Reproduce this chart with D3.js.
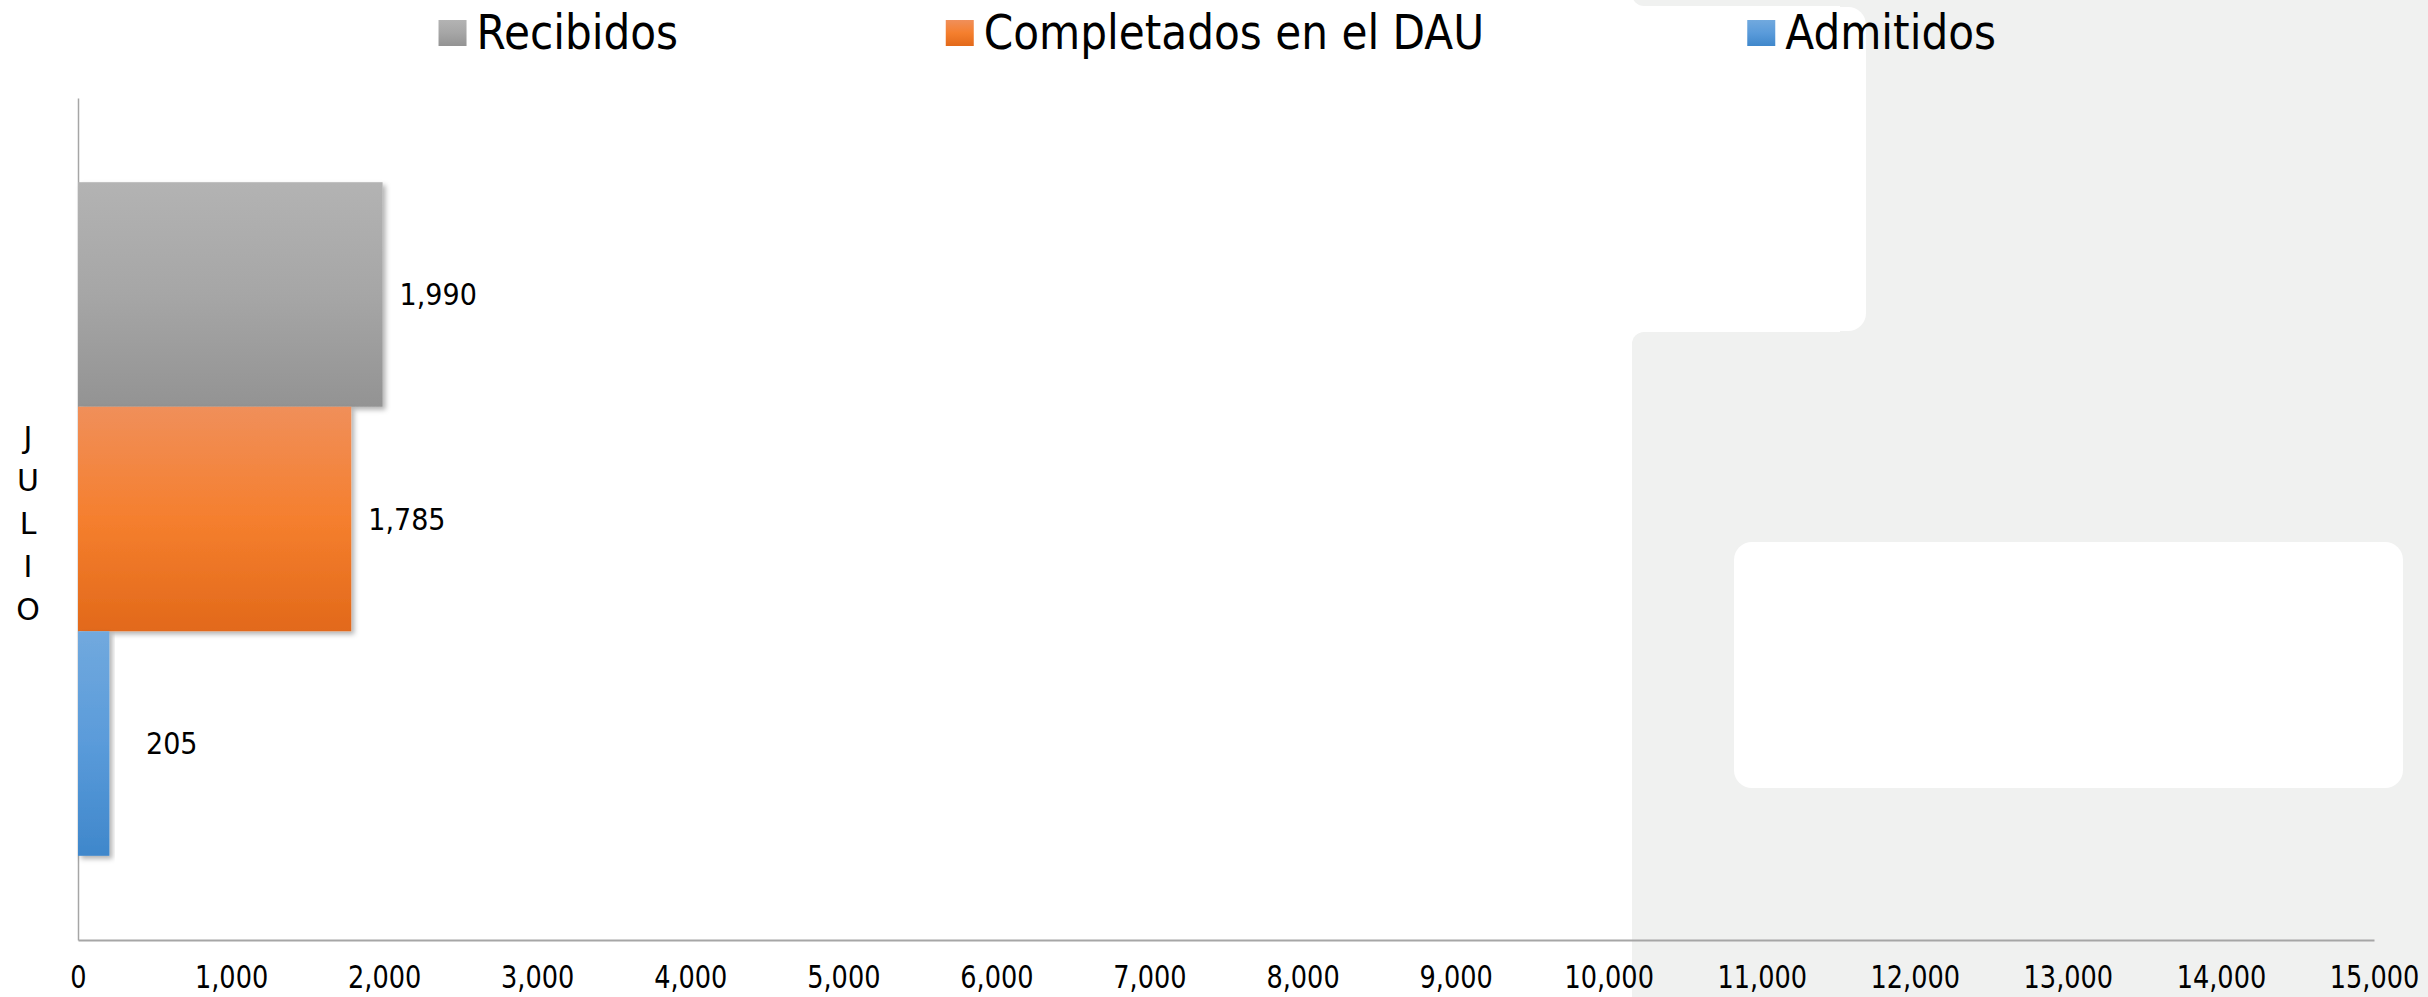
<!DOCTYPE html>
<html>
<head>
<meta charset="utf-8">
<script src="https://cdn.jsdelivr.net/npm/d3@7"></script>
<style>
    body { margin: 0; background: #ffffff; }
    svg { display: block; font-family: "DejaVu Sans", sans-serif; }
</style>
</head>
<body>
<div id="graph"></div>
<script>
// Données
const categories = ["JULIO"];
const series = ["Recibidos", "Completados en el DAU", "Admitidos"];
const valeurs = [1990, 1785, 205];
const graduations = [0, 1000, 2000, 3000, 4000, 5000, 6000, 7000, 8000, 9000, 10000, 11000, 12000, 13000, 14000, 15000];
const couleurs = [
    ["#b3b3b3", "#a6a6a6", "#939393"],
    ["#f08f5a", "#f57f2e", "#e2691a"],
    ["#71a9de", "#5a9bda", "#3f87cb"]
];

const width = 2428;
const height = 997;

const svg = d3.select("#graph").append("svg")
    .attr("width", width)
    .attr("height", height);

const defs = svg.append("defs");

// dégradés verticaux des barres
couleurs.forEach((c, i) => {
    const grad = defs.append("linearGradient")
        .attr("id", "grad" + i)
        .attr("x1", 0).attr("y1", 0).attr("x2", 0).attr("y2", 1);
    grad.append("stop").attr("offset", "0%").attr("stop-color", c[0]);
    grad.append("stop").attr("offset", "50%").attr("stop-color", c[1]);
    grad.append("stop").attr("offset", "100%").attr("stop-color", c[2]);
});

defs.append("filter")
    .attr("id", "ombre")
    .attr("x", "-5%").attr("y", "-5%").attr("width", "120%").attr("height", "120%")
    .append("feDropShadow")
    .attr("dx", 3).attr("dy", 3)
    .attr("stdDeviation", 2.5)
    .attr("flood-color", "#000")
    .attr("flood-opacity", 0.3);

dessinerFond();

const x = d3.scaleLinear()
    .domain([0, 15000])
    .range([78, 2374]);

const y = d3.scaleBand()
    .domain(categories)
    .range([98, 940])
    .paddingInner(0.2)
    .paddingOuter(0.1);

const ySerie = d3.scaleBand()
    .domain(series)
    .range([0, y.bandwidth()]);

const format = d3.format(",");

// axe horizontal
const axeX = svg.append("g")
    .attr("transform", "translate(0,940)")
    .call(d3.axisBottom(x).tickValues(graduations).tickSize(0).tickSizeOuter(0).tickFormat(format));

axeX.select(".domain")
    .attr("stroke", "#a6a6a6")
    .attr("stroke-width", 2);

axeX.selectAll("text")
    .attr("y", 48)
    .attr("dy", 0)
    .attr("fill", "#000")
    .attr("transform", "scale(0.8,1)")
    .style("font-family", "'DejaVu Sans', sans-serif")
    .style("font-size", "32px");

// axe vertical
const axeY = svg.append("g")
    .attr("transform", "translate(78,0)")
    .call(d3.axisLeft(y).tickSize(0).tickSizeOuter(0).tickFormat(""));

axeY.select(".domain")
    .attr("stroke", "#a6a6a6")
    .attr("stroke-width", 1.5);

// libellé de catégorie écrit lettre par lettre
categories.forEach(cat => {
    const centre = y(cat) + y.bandwidth() / 2;
    const lettres = cat.split("");
    svg.append("g")
        .selectAll("text")
        .data(lettres)
        .enter().append("text")
        .attr("x", 28)
        .attr("y", (d, i) => centre + (i - (lettres.length - 1) / 2) * 43)
        .attr("dy", "0.5em")
        .attr("text-anchor", "middle")
        .style("font-size", "30px")
        .attr("fill", "#000")
        .text(d => d);
});

// barres
const barres = svg.append("g");
series.forEach((s, i) => {
    barres.append("rect")
        .attr("x", x(0))
        .attr("y", y(categories[0]) + ySerie(s))
        .attr("width", x(valeurs[i]) - x(0))
        .attr("height", ySerie.bandwidth())
        .attr("fill", "url(#grad" + i + ")")
        .attr("filter", "url(#ombre)");
});

// étiquettes de valeurs
series.forEach((s, i) => {
    const lx = Math.max(x(valeurs[i]) + 17, x(0) + 68);
    const ly = y(categories[0]) + ySerie(s) + ySerie.bandwidth() / 2;
    svg.append("g")
        .attr("transform", `translate(${lx},${ly}) scale(0.9,1)`)
        .append("text")
        .attr("dy", "0.36em")
        .style("font-size", "30px")
        .attr("fill", "#000")
        .text(format(valeurs[i]));
});

dessinerLegende();

/**
 * Fond gris clair à droite avec les cadres blancs arrondis.
 */
function dessinerFond() {
    const fond = svg.append("g");
    const gris = "#f0f1f0";
    fond.append("rect").attr("x", 1632).attr("y", -30).attr("width", 900).attr("height", 36).attr("rx", 12).attr("fill", gris);
    fond.append("rect").attr("x", 1632).attr("y", 332).attr("width", 900).attr("height", 700).attr("rx", 12).attr("fill", gris);
    fond.append("rect").attr("x", 1840).attr("y", -10).attr("width", 600).attr("height", 1020).attr("fill", gris);
    fond.append("rect").attr("x", 1700).attr("y", 7).attr("width", 166).attr("height", 324).attr("rx", 18).attr("fill", "#ffffff");
    fond.append("rect").attr("x", 1734).attr("y", 542).attr("width", 669).attr("height", 246).attr("rx", 18).attr("fill", "#ffffff");
}

/**
 * Légende horizontale en haut du graphique.
 */
function dessinerLegende() {
    const position = d3.scaleBand()
        .domain(series)
        .range([230, 2200]);

    series.forEach((s, i) => {
        const item = svg.append("g");
        const texte = item.append("text")
            .attr("y", 49)
            .style("font-size", "48px")
            .attr("fill", "#000")
            .text(s);
        const largeurTexte = texte.node().getComputedTextLength() * 0.88;
        const largeur = 28 + 10 + largeurTexte;
        const debut = position(s) + position.bandwidth() / 2 - largeur / 2;

        item.append("rect")
            .attr("x", debut)
            .attr("y", 20)
            .attr("width", 28)
            .attr("height", 26)
            .attr("fill", "url(#grad" + i + ")");

        texte.attr("transform", `translate(${debut + 38},0) scale(0.88,1)`);
    });
}
</script>
</body>
</html>
